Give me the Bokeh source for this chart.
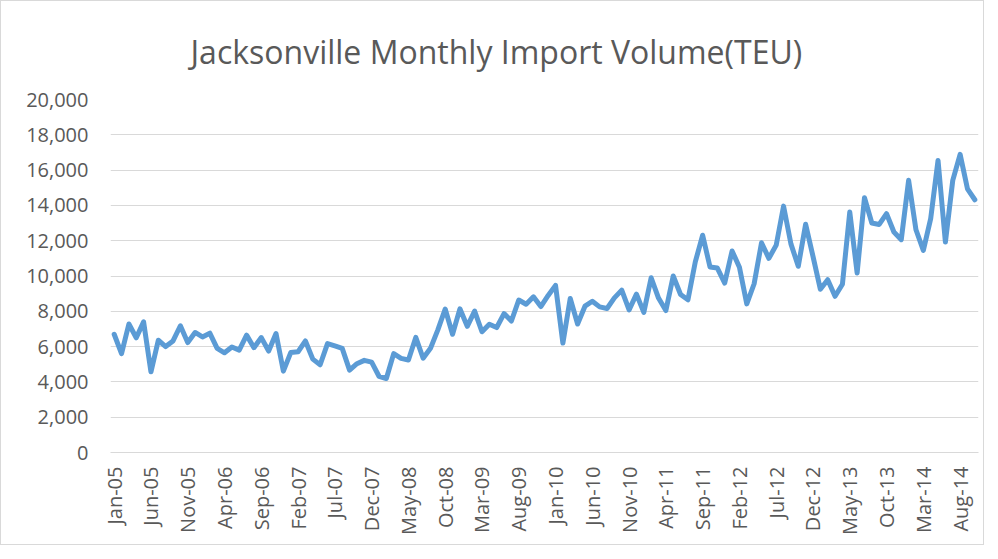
import math
from bokeh.plotting import figure
from bokeh.models import NumeralTickFormatter, FixedTicker, Range1d
from bokeh.embed import file_html
from bokeh.resources import INLINE

months = ["Jan", "Feb", "Mar", "Apr", "May", "Jun", "Jul", "Aug", "Sep", "Oct", "Nov", "Dec"]
# Monthly labels Jan-05 .. Oct-14
month_labels = [f"{months[m]}-{y:02d}" for y in range(5, 15) for m in range(12)][:118]

teu = [
    6700, 5600, 7280, 6500, 7400, 4570, 6360, 6000, 6320, 7180,
    6230, 6800, 6550, 6760, 5900, 5650, 5980, 5800, 6650, 5940,
    6510, 5750, 6740, 4610, 5660, 5710, 6320, 5290, 4970, 6170,
    6040, 5900, 4670, 5030, 5220, 5120, 4320, 4190, 5600, 5330,
    5240, 6520, 5340, 5900, 6950, 8130, 6700, 8140, 7150, 8010,
    6840, 7270, 7080, 7870, 7450, 8640, 8400, 8820, 8270, 8900,
    9470, 6200, 8730, 7280, 8290, 8570, 8250, 8160, 8760, 9200,
    8080, 8970, 7940, 9900, 8750, 8040, 10000, 8950, 8650, 10800,
    12310, 10510, 10450, 9600, 11420, 10500, 8420, 9560, 11880, 11000,
    11750, 13960, 11820, 10550, 12930, 11110, 9250, 9790, 8850, 9530,
    13620, 10170, 14430, 13000, 12920, 13530, 12490, 12060, 15420, 12620,
    11450, 13250, 16550, 11920, 15420, 16890, 14940, 14320,
]

tick_positions = list(range(0, 118, 5))
y_ticks = list(range(0, 20001, 2000))

x = list(range(len(teu)))

p = figure(
    width=982, height=543,
    output_backend="svg", toolbar_location=None,
    x_range=Range1d(-0.5, len(teu) - 0.5), y_range=Range1d(0, 20000),
    min_border_left=109, min_border_right=5, min_border_top=98, min_border_bottom=92,
)
p.frame_width = 868
p.frame_height = 353

p.line(x, teu, line_color="#5B9BD5", line_width=5, line_join="round", line_cap="round")

font = "Open Sans"
p.title.text = "Jacksonville Monthly Import Volume(TEU)"
p.title.align = "left"
p.title.offset = 80
p.title.text_font = font
p.title.text_font_size = "32px"
p.title.text_font_style = "normal"
p.title.text_color = "#595959"
p.title.standoff = 53

p.outline_line_color = None
p.background_fill_color = "white"
p.border_fill_color = "white"

p.xgrid.grid_line_color = None
p.ygrid.grid_line_color = "#D9D9D9"
p.ygrid.grid_line_width = 1.2
p.ygrid.ticker = FixedTicker(ticks=y_ticks)

p.yaxis.ticker = FixedTicker(ticks=y_ticks)
p.yaxis.formatter = NumeralTickFormatter(format="0,0")
p.yaxis.axis_line_color = None
p.yaxis.major_tick_line_color = None
p.yaxis.minor_tick_line_color = None
p.yaxis.major_label_text_font = font
p.yaxis.major_label_text_font_size = "20px"
p.yaxis.major_label_text_color = "#595959"
p.yaxis.major_label_standoff = 16

p.xaxis.ticker = FixedTicker(ticks=tick_positions)
p.xaxis.major_label_overrides = {i: month_labels[i] for i in tick_positions}
p.xaxis.major_label_orientation = math.pi / 2
p.xaxis.axis_line_color = "#D9D9D9"
p.xaxis.axis_line_width = 1.2
p.xaxis.major_tick_line_color = None
p.xaxis.minor_tick_line_color = None
p.xaxis.major_label_text_font = font
p.xaxis.major_label_text_font_size = "20px"
p.xaxis.major_label_text_color = "#595959"
p.xaxis.major_label_standoff = 8

p.styles = {"border": "1px solid #D9D9D9"}

open("out.html", "w").write(file_html(p, INLINE))
